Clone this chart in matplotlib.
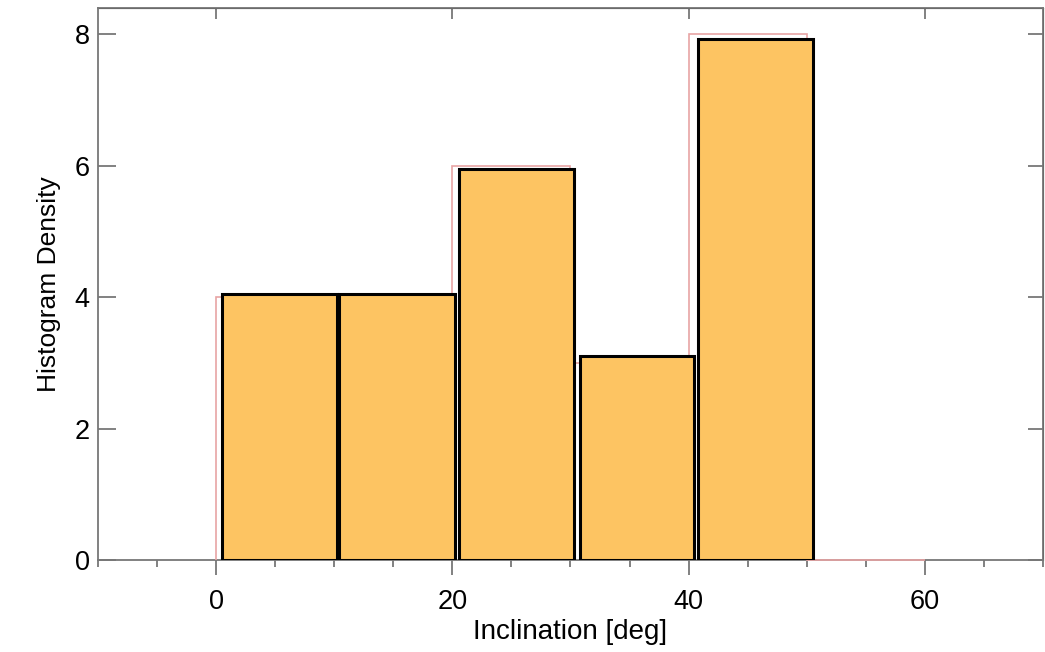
import matplotlib
matplotlib.use('Agg')
import matplotlib.pyplot as plt

# histogram of inclinations (step outline) and the shaded bars drawn over it
bin_edges = [0, 10, 20, 30, 40, 50, 60]
step_counts = [4, 4, 6, 3, 8, 0]
bar_left = [0.5, 10.4, 20.6, 30.8, 40.8]
bar_right = [10.25, 20.25, 30.3, 40.5, 50.5]
bar_height = [4.04, 4.04, 5.95, 3.1, 7.93]

x_ticks = [0, 20, 40, 60]
y_ticks = [0, 2, 4, 6, 8]

plt.rcParams['font.family'] = ['Liberation Sans', 'DejaVu Sans']

fig = plt.figure(figsize=(10.45, 6.52), dpi=100)
ax = fig.add_axes([0.0938, 0.141, 0.9042, 0.847])

ax.stairs(step_counts, bin_edges, baseline=0, color='#e8a4a4', linewidth=1.2,
          zorder=3, clip_on=False)

widths = [r - l for l, r in zip(bar_left, bar_right)]
ax.bar(bar_left, bar_height, width=widths, align='edge', facecolor='#fdc462',
       edgecolor='black', linewidth=2.2, zorder=4)

ax.set_xlim(-10, 70)
ax.set_ylim(0, 8.4)
ax.set_xticks(x_ticks)
ax.set_xticks(range(-10, 71, 5), minor=True)
ax.set_yticks(y_ticks)

grey = '#777777'
for s in ax.spines.values():
    s.set_color(grey)
    s.set_linewidth(1.3)

ax.tick_params(axis='x', which='major', direction='out', length=11, width=1.3,
               color=grey, labelsize=19.5, pad=10)
ax.tick_params(axis='x', which='minor', direction='out', length=5, width=1.3, color=grey)
ax.tick_params(axis='y', which='major', direction='in', length=13, width=1.3,
               color=grey, labelsize=19.5, pad=6)

top = ax.secondary_xaxis('top')
top.set_xticks(x_ticks)
top.tick_params(direction='in', length=8, width=1.3, color=grey, labeltop=False)
right = ax.secondary_yaxis('right')
right.set_yticks(y_ticks)
right.tick_params(direction='in', length=11, width=1.3, color=grey, labelright=False)

ax.set_xlabel('Inclination [deg]', fontsize=20, labelpad=3)
ax.set_ylabel('Histogram Density', fontsize=19, labelpad=10)

fig.savefig('out.png', dpi=100)
